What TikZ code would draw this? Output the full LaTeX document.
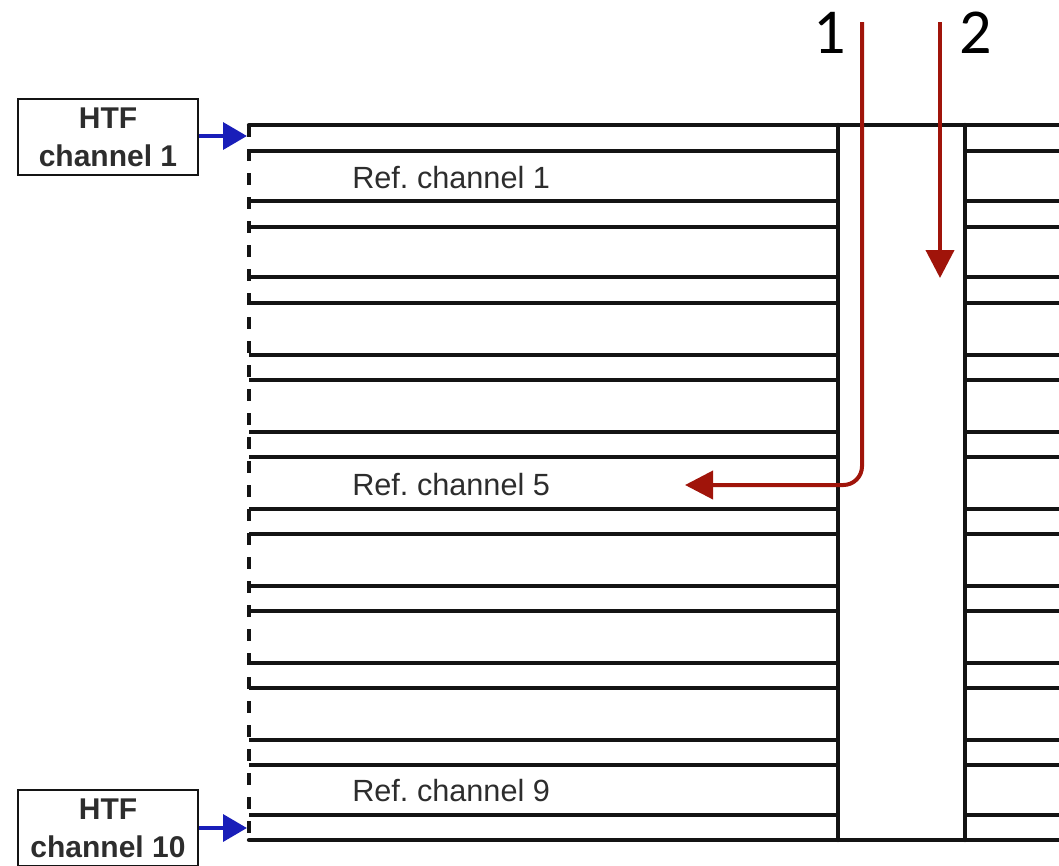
\documentclass[tikz,border=0pt]{standalone}
\usepackage{fontspec}
\setmainfont{Liberation Sans}
\newfontfamily\calib{Carlito}
\usetikzlibrary{arrows.meta}
\definecolor{wallgray}{RGB}{20,20,20}
\definecolor{htfblue}{RGB}{25,30,185}
\definecolor{flowred}{RGB}{160,20,10}
\definecolor{txtgray}{RGB}{45,45,45}
\frenchspacing
\begin{document}
\begin{tikzpicture}[x=0.75pt,y=-0.75pt,
  thinwall/.style={line width=2.3pt,draw=wallgray},
  thickwall/.style={line width=3.2pt,draw=wallgray,line cap=round},
  edgewall/.style={line width=2.7pt,draw=wallgray,dash pattern=on 9pt off 9pt},
  htfbox/.style={draw=wallgray,line width=1.4pt,minimum width=135pt,minimum height=57pt,
    align=center,inner sep=0pt,font=\fontsize{22.5}{28.5}\selectfont\bfseries,text=txtgray},
  reflabel/.style={anchor=west,inner sep=0pt,font=\fontsize{23}{26}\selectfont,text=txtgray},
  numlabel/.style={inner sep=0pt,font=\calib\fontsize{48}{50}\selectfont,text=black},
  bluearrow/.style={-{Triangle[length=18pt,width=20pt]},line width=3.4pt,draw=htfblue},
  redarrow/.style={-{Triangle[length=21pt,width=21pt]},line width=3pt,draw=flowred,rounded corners=14pt}]
\useasboundingbox (0,0) rectangle (1059,865);

% left dashed edge
\draw[edgewall] (249,125) -- (249,840);
% channel walls, left block and right block
\foreach \yy in {151,201,227,277,303,355,380,432,457,509,534,586,611,663,688,740,765,815}{
  \draw[thinwall] (249,\yy) -- (838,\yy);
  \draw[thinwall] (965,\yy) -- (1060,\yy);
}
% top and bottom
\draw[thickwall] (249,125) -- (1062,125);
\draw[thickwall] (249,840) -- (1062,840);
% column walls
\draw[thickwall] (838,125) -- (838,840);
\draw[thickwall] (965,125) -- (965,840);

% HTF boxes
\node[htfbox] (htf1) at (108,137) {HTF\\channel 1};
\node[htfbox] (htf10) at (108,828) {HTF\\channel 10};
\coordinate (in1) at (247,136);
\coordinate (in10) at (247,828);
\draw[bluearrow] (htf1.east |- in1) -- (in1);
\draw[bluearrow] (htf10.east |- in10) -- (in10);

% reference channel labels
\node[reflabel] (ref1) at (352,178) {Ref. channel 1};
\node[reflabel] (ref5) at (352,485) {Ref. channel 5};
\node[reflabel] (ref9) at (352,791) {Ref. channel 9};

% flow arrows
\node[numlabel] (n1) at (830,33) {1};
\node[numlabel] (n2) at (976,33) {2};
\coordinate (s1) at (862,22);
\coordinate (c1) at (862,485);
\coordinate (e1) at (685,485);
\coordinate (s2) at (940,22);
\coordinate (e2) at (940,278);
\draw[redarrow] (s1) -- (c1) -- (e1);
\draw[redarrow] (s2) -- (e2);
\end{tikzpicture}
\end{document}
